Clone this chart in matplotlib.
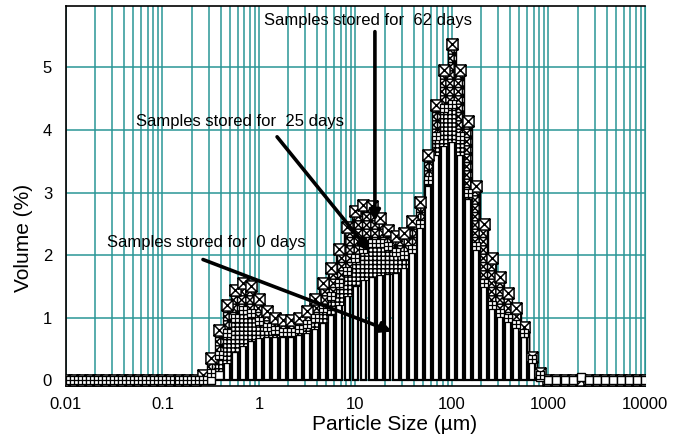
import matplotlib
matplotlib.use("Agg")
import matplotlib.pyplot as plt
import numpy as np
from matplotlib.path import Path
from matplotlib.ticker import LogLocator, NullFormatter

plt.rcParams["font.family"] = ["Liberation Sans", "DejaVu Sans"]
plt.rcParams["hatch.linewidth"] = 1.1

# size classes: 12 per decade from 0.01 to 10000 um
decade_steps = [1.0, 1.21, 1.47, 1.78, 2.15, 2.61, 3.16, 3.83, 4.64, 5.62, 6.81, 8.25]
sizes = [m * 10.0 ** e for e in range(-2, 4) for m in decade_steps] + [10000.0]

# volume (%) per size class, 0.261 um .. 825 um carry the distribution
vol_62 = [0.0] * 17 + [
    0.08, 0.35, 0.80, 1.20, 1.45, 1.55, 1.50, 1.30, 1.10, 1.00, 0.97,
    0.97, 1.00, 1.10, 1.30, 1.55, 1.80, 2.10, 2.45, 2.70, 2.80, 2.78,
    2.60, 2.40, 2.30, 2.35, 2.55, 2.85, 3.60, 4.40, 4.95, 5.38, 4.95,
    4.15, 3.10, 2.50, 1.95, 1.65, 1.40, 1.15, 0.85, 0.38, 0.12,
] + [0.0] * 13

vol_25 = [0.0] * 17 + [
    0.00, 0.12, 0.40, 0.75, 1.00, 1.12, 1.08, 0.95, 0.85, 0.80, 0.78,
    0.78, 0.82, 0.90, 1.00, 1.15, 1.35, 1.55, 1.75, 1.95, 2.10, 2.20,
    2.20, 2.15, 2.05, 2.00, 2.10, 2.50, 3.20, 3.90, 4.35, 4.42, 3.90,
    3.00, 2.15, 1.55, 1.20, 1.08, 1.00, 0.90, 0.75, 0.34, 0.08,
] + [0.0] * 13

vol_0 = [0.0] * 17 + [
    0.00, 0.00, 0.08, 0.28, 0.45, 0.55, 0.63, 0.68, 0.70, 0.70, 0.70,
    0.70, 0.72, 0.76, 0.82, 0.92, 1.05, 1.20, 1.35, 1.50, 1.60, 1.65,
    1.68, 1.70, 1.72, 1.80, 2.05, 2.50, 3.10, 3.60, 3.75, 3.80, 3.60,
    2.90, 2.10, 1.50, 1.15, 1.02, 0.95, 0.85, 0.70, 0.33, 0.05,
] + [0.0] * 4 + [0.06] + [0.0] * 8

x_ticks = [0.01, 0.1, 1, 10, 100, 1000, 10000]
x_tick_labels = ["0.01", "0.1", "1", "10", "100", "1000", "10000"]
y_ticks = [0, 1, 2, 3, 4, 5]

grid_color = "#2a9696"

# boxed-cross and boxed-plus marker shapes
MV, LN, CL = Path.MOVETO, Path.LINETO, Path.CLOSEPOLY
box_x = Path(
    [(-1, -1), (1, -1), (1, 1), (-1, 1), (-1, -1), (-1, -1), (1, 1), (-1, 1), (1, -1)],
    [MV, LN, LN, LN, CL, MV, LN, MV, LN],
)
box_plus = Path(
    [(-1, -1), (1, -1), (1, 1), (-1, 1), (-1, -1), (0, -1), (0, 1), (-1, 0), (1, 0)],
    [MV, LN, LN, LN, CL, MV, LN, MV, LN],
)

x = np.array(sizes)
v62 = np.array(vol_62)
v25 = np.array(vol_25)
v0 = np.array(vol_0)

fig = plt.figure(figsize=(6.78, 4.36), dpi=100)
ax = fig.add_axes([0.0973, 0.1147, 0.854, 0.8716])
ax.set_xscale("log")
ax.set_xlim(0.01, 10000)
ax.set_ylim(-0.09, 5.98)

# grid
ax.set_axisbelow(True)
ax.xaxis.set_minor_locator(LogLocator(base=10, subs=range(2, 10)))
ax.xaxis.set_minor_formatter(NullFormatter())
ax.grid(which="both", axis="x", color=grid_color, lw=1.1)
ax.grid(which="major", axis="y", color=grid_color, lw=1.1)

# 0 days as columns
hw = 0.36 / 12
left = x * 10 ** (-hw)
right = x * 10 ** hw
ax.bar(left, v0, width=right - left, align="edge", facecolor="white",
       edgecolor="black", lw=1.6, zorder=2)

# 25 days: band above the 0-day columns
ax.fill_between(x, v0, v25, where=v25 > v0, step="mid", facecolor="white",
                edgecolor="black", hatch="++++", lw=0.8, zorder=2)
# 62 days: band above the 25-day curve
ax.fill_between(x, v25, v62, where=v62 > v25, step="mid", facecolor="white",
                edgecolor="black", hatch="++xxxx", lw=1.0, zorder=2)

ax.plot(x, v62, ls="none", marker=box_x, ms=8, mfc="white", mec="black",
        mew=1.1, zorder=3)
zero0 = v0 < 0.1
ax.plot(x[zero0], v0[zero0], ls="none", marker="s", ms=5.5, mfc="white",
        mec="black", mew=1.0, zorder=3)
ax.plot(x[~zero0 | (v25 > 0)], v25[~zero0 | (v25 > 0)], ls="none",
        marker=box_plus, ms=5.5, mfc="white", mec="black", mew=0.9, zorder=3)
ax.plot(x[x < 0.3], v25[x < 0.3], ls="none", marker=box_plus, ms=5.5,
        mfc="white", mec="black", mew=0.9, zorder=3)

# annotations
arrow = dict(arrowstyle="-|>", color="black", lw=2.6, mutation_scale=16,
             shrinkA=0, shrinkB=0)
ax.text(13.5, 5.74, "Samples stored for  62 days", ha="center", va="center",
        fontsize=12, zorder=5)
ax.annotate("", xy=(15.9, 2.54), xytext=(15.9, 5.57), arrowprops=arrow, zorder=5)
ax.text(0.635, 4.13, "Samples stored for  25 days", ha="center", va="center",
        fontsize=12, zorder=5)
ax.annotate("", xy=(14.1, 2.06), xytext=(1.54, 3.89), arrowprops=arrow, zorder=5)
ax.text(0.282, 2.2, "Samples stored for  0 days", ha="center", va="center",
        fontsize=12, zorder=5)
ax.annotate("", xy=(23.9, 0.78), xytext=(0.263, 1.93), arrowprops=arrow, zorder=5)

# axes styling
ax.set_xticks(x_ticks)
ax.set_xticklabels(x_tick_labels)
ax.set_yticks(y_ticks)
ax.tick_params(which="both", length=0, labelsize=12)
ax.tick_params(axis="x", pad=8)
ax.tick_params(axis="y", pad=10)
for side in ("top", "left", "bottom"):
    ax.spines[side].set_color("black")
    ax.spines[side].set_linewidth(1.2)
ax.spines["right"].set_color(grid_color)

ax.set_xlabel("Particle Size (\u00b5m)", fontsize=15)
ax.set_ylabel("Volume (%)", fontsize=15)
ax.xaxis.set_label_coords(0.568, -0.076)
ax.yaxis.set_label_coords(-0.057, 0.39)

fig.savefig("out.png", dpi=100)
